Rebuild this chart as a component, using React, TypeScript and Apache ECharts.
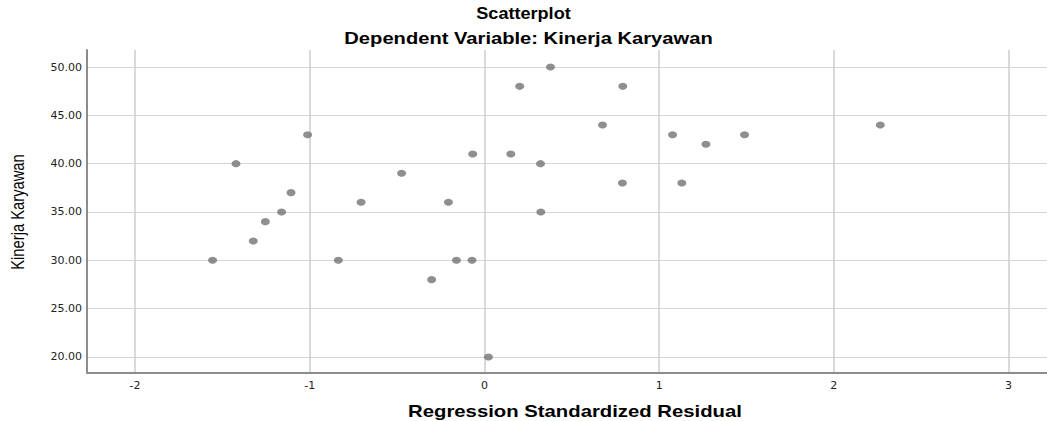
import React, { useEffect, useRef } from "react";
import * as echarts from "echarts";

const residuals = [
  -1.556, -1.422, -1.012, -1.107, -1.161, -1.254, -1.323, -0.836, -0.706, -0.474,
  -0.206, -0.302, -0.16, -0.071, -0.067, 0.151, 0.202, 0.023, 0.378, 0.792,
  0.676, 1.077, 1.268, 1.489, 2.266, 0.321, 0.79, 1.13, 0.323,
];
const kinerja = [
  30, 40, 43, 37, 35, 34, 32, 30, 36, 39,
  36, 28, 30, 30, 41, 41, 48, 20, 50, 48,
  44, 43, 42, 43, 44, 40, 38, 38, 35,
];
const xTicks = [-2, -1, 0, 1, 2, 3];
const yTicks = [20, 25, 30, 35, 40, 45, 50];

const titleText = "Scatterplot";
const subtitleText = "Dependent Variable: Kinerja Karyawan";
const xName = "Regression Standardized Residual";
const yName = "Kinerja Karyawan";

const BOLD = "bold 16px Liberation Sans, Arial, sans-serif";

export default function App() {
  const ref = useRef<HTMLDivElement>(null);
  useEffect(() => {
    if (!ref.current) return;
    const chart = echarts.init(ref.current, null, { renderer: "svg" });
    const data = residuals.map((x, i) => [x, kinerja[i]]);
    chart.setOption({
      animation: false,
      backgroundColor: "#ffffff",
      textStyle: { fontFamily: "Liberation Sans, Arial, sans-serif" },
      graphic: [
        {
          type: "text",
          x: 523.5,
          y: 14,
          scaleX: 1.13,
          style: { text: titleText, font: BOLD, fill: "#000", align: "center", verticalAlign: "middle" },
        },
        {
          type: "text",
          x: 528.5,
          y: 39,
          scaleX: 1.26,
          style: { text: subtitleText, font: BOLD, fill: "#000", align: "center", verticalAlign: "middle" },
        },
        {
          type: "text",
          x: 575,
          y: 411,
          scaleX: 1.27,
          style: { text: xName, font: BOLD, fill: "#000", align: "center", verticalAlign: "middle" },
        },
        {
          type: "text",
          x: 17,
          y: 212,
          rotation: Math.PI / 2,
          scaleX: 0.82,
          style: {
            text: yName,
            font: "18px Liberation Sans, Arial, sans-serif",
            fill: "#000",
            align: "center",
            verticalAlign: "middle",
          },
        },
      ],
      grid: { left: 87, right: 0, top: 50, bottom: 48, containLabel: false },
      xAxis: {
        type: "value",
        min: -2.275,
        max: 3.22,
        axisLine: { show: true, onZero: false, lineStyle: { color: "#8c8c8c", width: 2 } },
        axisTick: { show: false, customValues: xTicks },
        axisLabel: {
          customValues: xTicks,
          color: "#222",
          fontSize: 11,
          fontFamily: "DejaVu Sans, sans-serif",
          margin: 7,
          formatter: (v: number) => String(v),
        },
        splitLine: { show: true, lineStyle: { color: "#cccccc", width: 1.5 } },
      },
      yAxis: {
        type: "value",
        min: 18.34,
        max: 51.76,
        axisLine: { show: true, onZero: false, lineStyle: { color: "#8c8c8c", width: 2 } },
        axisTick: { show: false, customValues: yTicks },
        axisLabel: {
          customValues: yTicks,
          color: "#222",
          fontSize: 11,
          fontFamily: "DejaVu Sans, sans-serif",
          margin: 5,
          formatter: (v: number) => v.toFixed(2),
        },
        splitLine: { show: true, lineStyle: { color: "#d4d4d4", width: 1 } },
      },
      series: [
        {
          type: "scatter",
          data,
          symbol: "circle",
          symbolSize: [9, 7],
          itemStyle: { color: "#737373" },
        },
      ],
    });
    return () => chart.dispose();
  }, []);
  return <div ref={ref} style={{ width: 1047, height: 421, position: "absolute", left: 0, top: 0 }} />;
}
